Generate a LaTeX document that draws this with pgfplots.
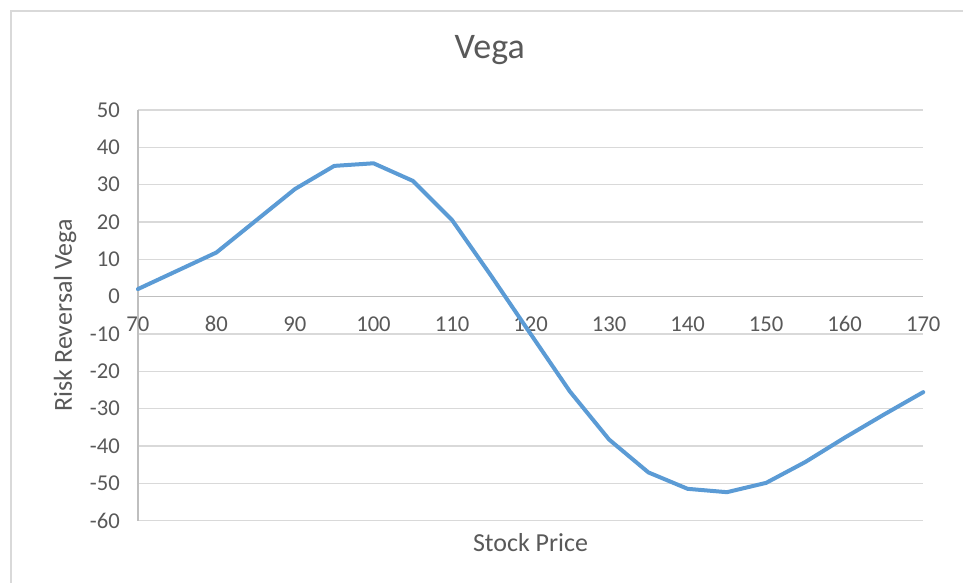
\documentclass[border=0pt]{standalone}
\usepackage{fontspec}
\setmainfont{Carlito}
\usepackage{pgfplots}
\pgfplotsset{compat=1.18}
\definecolor{txt}{HTML}{595959}
\definecolor{grid}{HTML}{D9D9D9}
\definecolor{axl}{HTML}{BFBFBF}
\definecolor{ser}{HTML}{5B9BD5}
\begin{document}
\begin{tikzpicture}
\path (0,0) rectangle (723pt,437.25pt);
\begin{axis}[
  at={(103.5pt,46.5pt)}, anchor=south west,
  scale only axis, width=589.5pt, height=308.25pt,
  xmin=70, xmax=170, ymin=-60, ymax=50,
  xtick={70,80,...,170}, ytick={-60,-50,...,50},
  axis x line=middle, axis y line=left,
  axis line style={draw=axl, line width=1pt, -},
  hide obscured x ticks=false, hide obscured y ticks=false,
  major tick length=0pt,
  ymajorgrids, grid style={draw=grid, line width=1pt},
  /pgf/number format/assume math mode=true,
  tick label style={font=\fontsize{17}{20}\selectfont, text=txt},
  xticklabel style={text height=11pt, text depth=0pt, anchor=north, yshift=-12pt},
  yticklabel style={xshift=-10pt},
  title={Vega},
  title style={font=\fontsize{27}{32}\selectfont, text=txt, at={(axis description cs:0.448,1.1054)}, anchor=base},
  xlabel={Stock Price},
  xlabel style={font=\fontsize{19.5}{23}\selectfont, text=txt, at={(axis description cs:0.5,-0.0754)}, anchor=base},
  ylabel={Risk Reversal Vega},
  ylabel style={font=\fontsize{19.5}{23}\selectfont, text=txt, at={(axis description cs:-0.084,0.5)}, anchor=base, rotate=0},
  clip=false,
]
\addplot[color=ser, line width=3pt, line join=round, line cap=round] coordinates {
(70,2.0) (75,6.9) (80,11.8) (85,20.3) (90,28.8) (95,35.0) (100,35.7)
(105,31.0) (110,20.5) (115,5.5) (120,-10.0) (125,-25.4) (130,-38.3)
(135,-47.1) (140,-51.5) (145,-52.4) (150,-49.9) (155,-44.3) (160,-37.8)
(165,-31.6) (170,-25.6)
};
\end{axis}
\draw[grid, line width=1.2pt] (8.25pt,0) -- (8.25pt,429pt) -- (723pt,429pt);
\end{tikzpicture}
\end{document}
